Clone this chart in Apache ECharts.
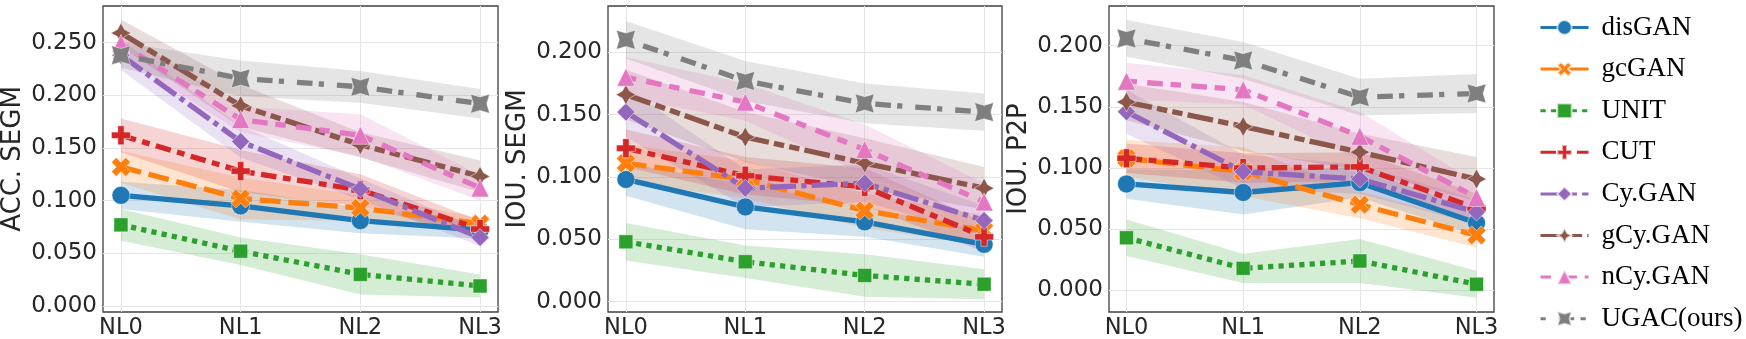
<!DOCTYPE html>
<html>
<head>
<meta charset="utf-8">
<script src="https://cdn.jsdelivr.net/npm/echarts@6/dist/echarts.min.js"></script>
<style>
    html, body {
        margin: 0;
        padding: 0;
        background: #fff;
    }
    #chart {
        width: 1746px;
        height: 339px;
    }
</style>
</head>
<body>
<div id="chart"></div>
<script>
    //x轴类别
    var levels = ['NL0', 'NL1', 'NL2', 'NL3'];
    //方法名
    var methods = ['disGAN', 'gcGAN', 'UNIT', 'CUT', 'Cy.GAN', 'gCy.GAN', 'nCy.GAN', 'UGAC(ours)'];
    //三个面板的y轴名称
    var yNames = ['ACC. SEGM', 'IOU. SEGM', 'IOU. P2P'];
    //y轴刻度
    var yTicksAcc = [0, 0.05, 0.10, 0.15, 0.20, 0.25];
    var yTicksIou = [0, 0.05, 0.10, 0.15, 0.20];

    //ACC. SEGM 均值 (行顺序同 methods)
    var accSegmMean = [
        [0.105, 0.095, 0.081, 0.072],
        [0.132, 0.102, 0.093, 0.078],
        [0.077, 0.052, 0.030, 0.019],
        [0.162, 0.128, 0.110, 0.073],
        [0.238, 0.156, 0.111, 0.065],
        [0.259, 0.190, 0.153, 0.123],
        [0.249, 0.177, 0.162, 0.112],
        [0.238, 0.216, 0.208, 0.192]
    ];
    var accSegmStd = [
        [0.013, 0.015, 0.012, 0.008],
        [0.015, 0.020, 0.012, 0.006],
        [0.015, 0.013, 0.019, 0.011],
        [0.016, 0.020, 0.015, 0.008],
        [0.014, 0.015, 0.010, 0.008],
        [0.013, 0.020, 0.012, 0.015],
        [0.012, 0.012, 0.020, 0.012],
        [0.012, 0.017, 0.015, 0.014]
    ];
    //IOU. SEGM
    var iouSegmMean = [
        [0.098, 0.076, 0.064, 0.046],
        [0.111, 0.098, 0.073, 0.057],
        [0.048, 0.032, 0.021, 0.014],
        [0.123, 0.101, 0.092, 0.052],
        [0.152, 0.091, 0.095, 0.065],
        [0.166, 0.132, 0.111, 0.091],
        [0.180, 0.160, 0.122, 0.080],
        [0.210, 0.177, 0.159, 0.152]
    ];
    var iouSegmStd = [
        [0.013, 0.018, 0.012, 0.010],
        [0.015, 0.015, 0.014, 0.012],
        [0.015, 0.013, 0.017, 0.012],
        [0.015, 0.015, 0.015, 0.012],
        [0.020, 0.015, 0.015, 0.012],
        [0.020, 0.020, 0.020, 0.017],
        [0.016, 0.015, 0.020, 0.015],
        [0.015, 0.016, 0.016, 0.015]
    ];
    //IOU. P2P
    var iouP2pMean = [
        [0.087, 0.080, 0.088, 0.055],
        [0.108, 0.097, 0.070, 0.045],
        [0.043, 0.018, 0.024, 0.005],
        [0.108, 0.100, 0.101, 0.067],
        [0.146, 0.097, 0.091, 0.064],
        [0.154, 0.134, 0.113, 0.091],
        [0.171, 0.164, 0.126, 0.076],
        [0.206, 0.188, 0.158, 0.161]
    ];
    var iouP2pStd = [
        [0.012, 0.018, 0.012, 0.010],
        [0.015, 0.020, 0.011, 0.010],
        [0.015, 0.012, 0.018, 0.011],
        [0.012, 0.012, 0.012, 0.012],
        [0.018, 0.014, 0.012, 0.010],
        [0.015, 0.020, 0.015, 0.018],
        [0.015, 0.012, 0.020, 0.012],
        [0.015, 0.015, 0.015, 0.016]
    ];

    var panels = [
        {mean: accSegmMean, std: accSegmStd, ticks: yTicksAcc},
        {mean: iouSegmMean, std: iouSegmStd, ticks: yTicksIou},
        {mean: iouP2pMean, std: iouP2pStd, ticks: yTicksIou}
    ];

    //样式
    var colors = ['#1f77b4', '#ff7f0e', '#2ca02c', '#d62728', '#9467bd', '#8c564b', '#e377c2', '#7f7f7f'];
    var lw = 5.3;
    //seaborn 默认虚线 (乘以线宽)
    var dashes = [null, [4, 1.5], [1, 1], [3, 1.25, 1.5, 1.25], [5, 1, 1, 1], [5, 1, 2, 1, 2, 1], [2, 2, 3, 1.5], [1, 2.5, 3, 1.2]];
    var starPlus = 'path://M0,-1000 L354,-354 L1000,0 L354,354 L0,1000 L-354,354 L-1000,0 L-354,-354 Z';
    var starX = 'path://M-707,-707 L0,-500 L707,-707 L500,0 L707,707 L0,500 L-707,707 L-500,0 Z';
    var markers = [
        'circle',
        'path://M2,-4 L4,-2 L2,0 L4,2 L2,4 L0,2 L-2,4 L-4,2 L-2,0 L-4,-2 L-2,-4 L0,-2 Z',
        'rect',
        'path://M-1,-3 L1,-3 L1,-1 L3,-1 L3,1 L1,1 L1,3 L-1,3 L-1,1 L-3,1 L-3,-1 L-1,-1 Z',
        'diamond',
        starPlus,
        'triangle',
        starX
    ];
    var markerSize = [18, 19, 14, 19, 18, 20, 18, 19];

    var grids = [
        {left: 103, top: 6, width: 395, height: 306},
        {left: 608, top: 6, width: 394, height: 306},
        {left: 1109, top: 6, width: 385, height: 306}
    ];
    var yMin = [-0.0057, -0.0083, -0.0177];
    var yMax = [0.2847, 0.2371, 0.2325];
    var textColor = '#262626';

    var option = {
        backgroundColor: '#fff',
        animation: false,
        grid: [],
        xAxis: [],
        yAxis: [],
        series: [],
        legend: {
            orient: 'vertical',
            left: 1539,
            top: 14,
            padding: 0,
            itemWidth: 48,
            itemHeight: 18,
            itemGap: 14.6,
            lineStyle: {width: 3},
            textStyle: {
                fontFamily: 'Liberation Serif',
                fontSize: 27,
                lineHeight: 27,
                color: '#000',
                padding: [0, 0, 0, 8]
            },
            data: methods
        }
    };

    //带状区域
    function bandRender(lo, hi, color) {
        return function (params, api) {
            var pts = [];
            for (var i = 0; i < lo.length; i++) {
                pts.push(api.coord([i, lo[i]]));
            }
            for (var j = hi.length - 1; j >= 0; j--) {
                pts.push(api.coord([j, hi[j]]));
            }
            return {
                type: 'polygon',
                shape: {points: pts},
                style: {fill: color, opacity: 0.2}
            };
        };
    }

    for (var p = 0; p < panels.length; p++) {
        var g = grids[p];
        option.grid.push({
            left: g.left, top: g.top, width: g.width, height: g.height,
            show: true,
            borderColor: '#404040',
            borderWidth: 1.3,
            outerBoundsMode: 'none'
        });
        option.xAxis.push({
            type: 'value',
            gridIndex: p,
            min: -0.15,
            max: 3.15,
            axisLine: {show: false},
            axisTick: {show: false, customValues: [0, 1, 2, 3]},
            axisLabel: {
                customValues: [0, 1, 2, 3],
                formatter: function (v) { return levels[Math.round(v)]; },
                fontFamily: 'DejaVu Sans',
                fontSize: 22.5,
                color: textColor,
                margin: 5
            },
            splitLine: {show: true, lineStyle: {color: '#e6e6e6', width: 1}}
        });
        option.yAxis.push({
            type: 'value',
            gridIndex: p,
            min: yMin[p],
            max: yMax[p],
            name: yNames[p],
            nameLocation: 'middle',
            nameGap: 77,
            nameTextStyle: {fontFamily: 'DejaVu Sans', fontSize: 26, color: textColor},
            axisLine: {show: false},
            axisTick: {show: false, customValues: panels[p].ticks},
            axisLabel: {
                customValues: panels[p].ticks,
                formatter: function (v) { return v.toFixed(3); },
                fontFamily: 'DejaVu Sans',
                fontSize: 23,
                color: textColor,
                margin: 6
            },
            splitLine: {show: true, lineStyle: {color: '#e6e6e6', width: 1}}
        });

        var mean = panels[p].mean;
        var std = panels[p].std;
        //先画所有带状区域
        for (var k = 0; k < methods.length; k++) {
            var lo = [], hi = [];
            for (var i = 0; i < levels.length; i++) {
                lo.push(mean[k][i] - std[k][i]);
                hi.push(mean[k][i] + std[k][i]);
            }
            option.series.push({
                type: 'custom',
                name: methods[k] + ' band',
                xAxisIndex: p,
                yAxisIndex: p,
                clip: true,
                z: 1,
                silent: true,
                renderItem: bandRender(lo, hi, colors[k]),
                data: [[0, mean[k][0]]]
            });
        }
        //再画折线
        for (var k2 = 0; k2 < methods.length; k2++) {
            var pts = [];
            for (var i2 = 0; i2 < levels.length; i2++) {
                pts.push([i2, mean[k2][i2]]);
            }
            var dash = dashes[k2] ? dashes[k2].map(function (d) { return d * 5.2; }) : 'solid';
            option.series.push({
                type: 'line',
                name: methods[k2],
                xAxisIndex: p,
                yAxisIndex: p,
                z: 2,
                data: pts,
                symbol: markers[k2],
                symbolSize: markerSize[k2],
                showAllSymbol: true,
                clip: false,
                lineStyle: {color: colors[k2], width: lw, type: dash, cap: 'butt'},
                itemStyle: {color: colors[k2], borderColor: 'rgba(255,255,255,0.6)', borderWidth: 0.8, opacity: 1}
            });
        }
    }

    var mychart = echarts.init(document.getElementById('chart'));
    mychart.setOption(option);
</script>
</body>
</html>
